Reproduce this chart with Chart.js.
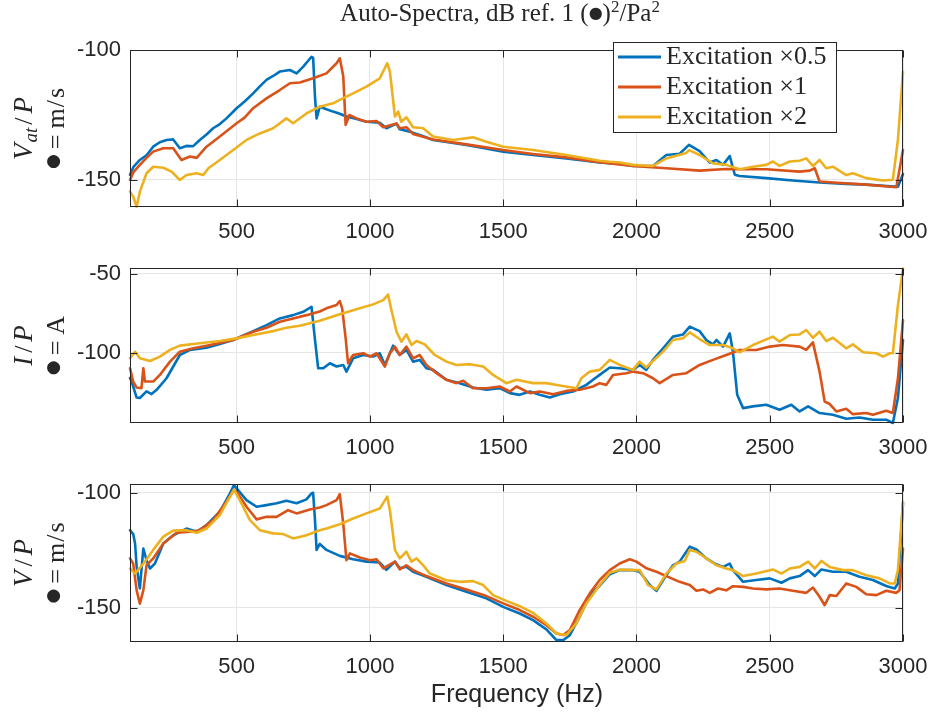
<!DOCTYPE html>
<html><head><meta charset="utf-8">
<script src="https://cdn.jsdelivr.net/npm/chart.js@4.4.1/dist/chart.umd.min.js"></script>
<style>
html,body{margin:0;padding:0;background:#fff;}
#wrap{position:relative;width:932px;height:719px;overflow:hidden;}
canvas{position:absolute;left:0;}
</style></head><body>
<div id="wrap">
<canvas id="c1" width="932" height="240" style="top:0px;width:932px;height:240px"></canvas>
<canvas id="c2" width="932" height="215" style="top:240px;width:932px;height:215px"></canvas>
<canvas id="c3" width="932" height="264" style="top:455px;width:932px;height:264px"></canvas>
</div>
<script>
// ---------- text / ticks ----------
const FREQ_TICKS = [500, 1000, 1500, 2000, 2500, 3000];
const VAT_Y_TICKS = [-150, -100];
const I_Y_TICKS = [-100, -50];
const V_Y_TICKS = [-150, -100];
const SERIES_LABELS = ['Excitation \u00d70.5', 'Excitation \u00d71', 'Excitation \u00d72'];
const SERIES_COLORS = ['#0072BD', '#D95319', '#EDB120'];
const X_TITLE = 'Frequency (Hz)';

// ---------- V_at / P ----------
const vatBlueF = [100,113,137,162,187,212,237,262,287,312,337,362,387,412,437,462,500,530,562,587,612,637,662,700,725,750,781,787,794,800,812,837,862,887,912,950,987,1037,1062,1100,1112,1150,1200,1237,1300,1362,1430,1500,1612,1737,1862,1937,1987,2062,2112,2162,2197,2237,2275,2300,2325,2350,2369,2387,2487,2587,2687,2787,2862,2940,2981,3000];
const vatBlue = [-148,-145,-142.3,-140.5,-137.2,-135.5,-134.6,-134.4,-137.8,-136.9,-137,-134.6,-132.5,-130.1,-128.5,-126.3,-122.4,-119.8,-116.7,-114,-111.5,-110,-108.3,-107.7,-109,-106.4,-102.6,-103,-118,-126.3,-121.8,-122.8,-123.7,-124.5,-125.6,-126.5,-127.6,-128,-130.1,-128.3,-130.5,-131.4,-133.2,-134.6,-135.6,-136.5,-137.8,-139.1,-140.4,-141.7,-143.3,-143.8,-144.6,-144.6,-140.4,-139.9,-136.5,-138.9,-143.3,-142.3,-144.2,-140.8,-148,-148.5,-149.3,-150.2,-151,-151.5,-151.8,-152.3,-152.6,-147.7];
const vatOrangeF = [100,113,137,162,187,225,262,293,325,350,387,437,500,530,562,612,662,700,737,787,837,875,887,900,909,923,950,987,1025,1050,1100,1112,1137,1162,1237,1362,1500,1612,1737,1862,1987,2112,2237,2337,2387,2487,2612,2650,2669,2687,2737,2862,2975,3000];
const vatOrange = [-150,-147,-144.2,-141.5,-139.1,-137.8,-137.8,-142.3,-141,-141.5,-137.2,-133.3,-128.2,-126,-122.4,-118.6,-115.4,-112.8,-112.5,-110.9,-109,-105.1,-103.2,-110,-128.8,-125,-126.3,-127.6,-127.3,-129.7,-128.3,-130.1,-129.7,-132.3,-134.4,-136.3,-138.5,-140,-141.3,-143.2,-144.6,-145.5,-146.4,-145.8,-145.9,-145.9,-146.8,-146.4,-145.5,-150.6,-151,-151.8,-152.8,-138.5];
const vatYellowF = [100,112,125,137,162,187,225,256,287,312,350,375,394,437,487,537,587,637,687,712,762,812,862,887,937,987,1037,1065,1075,1094,1106,1118,1137,1162,1200,1237,1312,1387,1437,1500,1612,1737,1862,1900,1937,1987,2062,2112,2187,2197,2237,2287,2337,2387,2437,2487,2512,2537,2575,2612,2637,2662,2687,2712,2737,2787,2812,2862,2925,2962,2981,3000];
const vatYellow = [-154.5,-156.4,-160.3,-154.5,-147.4,-144.9,-145.3,-146.8,-150,-148.1,-147.4,-148.1,-145.5,-142.3,-138.5,-134.6,-132.1,-130.1,-126.3,-128.2,-124.4,-121.8,-120.5,-119.2,-116.7,-114.1,-110.9,-105.1,-108.3,-125.6,-123.7,-127.6,-125.9,-129.7,-130.1,-133.3,-134.6,-133.6,-135.3,-137.2,-138.5,-140.4,-142.6,-143,-143.3,-144.2,-144.6,-141.7,-139.6,-138.5,-140.4,-143.6,-144.2,-145.9,-144.9,-144.2,-142.9,-144.6,-142.9,-142.6,-141.7,-144.6,-142.3,-145.5,-144.9,-148.1,-147.4,-149.3,-150.2,-149.9,-134.6,-108.3];

// ---------- I / P ----------
const iBlueF = [100,106,125,137,162,181,200,237,287,325,387,437,487,562,612,662,712,750,781,794,806,825,850,875,900,912,937,975,1012,1037,1056,1087,1112,1137,1162,1187,1212,1237,1287,1337,1387,1437,1487,1525,1562,1600,1637,1675,1712,1762,1812,1837,1862,1900,1937,1987,2012,2037,2062,2100,2137,2175,2200,2237,2262,2287,2300,2325,2350,2362,2378,2400,2437,2487,2537,2581,2612,2644,2687,2737,2787,2837,2887,2937,2962,2981,3000];
const iBlue = [-116,-118.3,-128.4,-128.7,-124.5,-126.2,-123.5,-116.2,-101.5,-98.3,-96.9,-94.5,-92,-86.4,-82.6,-78.4,-76.3,-74.2,-71,-92,-109.9,-109.9,-106.7,-108.8,-107.8,-112,-103.6,-101.5,-102.5,-100.4,-107.8,-95.6,-101.5,-98.3,-105.7,-104.6,-109.9,-110.9,-117.2,-119.3,-122.1,-123.5,-122.5,-125.6,-126.7,-124.6,-126.7,-128.4,-126.3,-124.6,-120.4,-117.2,-114.1,-109.4,-109.9,-110.9,-107.8,-110.9,-104.6,-97.3,-89.9,-88.5,-83.6,-86.4,-92,-94.8,-92,-96.2,-87.8,-99.4,-126.7,-135.1,-134,-133,-136.1,-133,-137.2,-134,-138.2,-139.3,-141.8,-141,-142.4,-142.4,-144.5,-128.7,-92];
const iOrangeF = [100,112,125,143,150,156,187,212,250,287,337,387,487,562,612,662,712,762,812,837,875,887,896,909,918,937,975,1000,1025,1056,1075,1094,1112,1137,1162,1187,1212,1250,1287,1325,1350,1387,1437,1487,1525,1550,1600,1637,1687,1737,1787,1837,1862,1887,1912,1962,1987,2025,2062,2087,2137,2187,2237,2287,2337,2387,2450,2500,2550,2612,2637,2662,2687,2706,2725,2750,2787,2812,2862,2887,2937,2962,2981,3000];
const iOrange = [-109.9,-118.3,-122.1,-122.5,-109.9,-118.3,-118.3,-114.1,-105.7,-99.4,-97.3,-95.6,-92,-86.8,-84.3,-80.5,-78.4,-76.3,-74,-72,-69.9,-67.4,-72,-90.9,-106.7,-101.5,-100.4,-102.5,-100.4,-108.8,-100.4,-96.2,-101.5,-96.2,-103.6,-101.5,-107.8,-113,-117.2,-119.3,-117.8,-122.5,-122.5,-121.4,-124.6,-121.4,-125.6,-124.6,-126.3,-124.2,-123.5,-121.4,-119.3,-120.4,-114.1,-113,-112,-113,-116.2,-119.3,-114.1,-113,-107.8,-104.6,-101.5,-98.3,-98.3,-96.2,-95.2,-96.2,-98.3,-93.5,-112,-130.9,-132.5,-137.2,-135.5,-138.9,-138.2,-139.3,-136.8,-138.2,-116.2,-79.4];
const iYellowF = [100,119,137,175,212,250,287,362,437,500,562,637,687,737,812,887,962,1012,1050,1068,1081,1100,1118,1137,1156,1175,1206,1243,1287,1325,1375,1425,1462,1512,1550,1612,1662,1712,1775,1793,1825,1862,1900,1937,1987,2012,2037,2062,2100,2137,2175,2200,2237,2275,2325,2362,2387,2437,2512,2537,2575,2612,2637,2662,2687,2712,2737,2787,2812,2850,2900,2925,2950,2962,2981,3000];
const iYellow = [-103.6,-99.4,-103.6,-105.3,-102.5,-98.3,-95.6,-94.1,-92.7,-91,-88.9,-86.4,-84.3,-83,-79.9,-75.8,-72,-69.5,-66.8,-63.3,-73.2,-86.8,-93.1,-88.5,-95.2,-92.7,-94.8,-101.5,-105.7,-107.8,-107.3,-108.8,-114.1,-119.3,-117.2,-119.3,-119.3,-120.8,-122.5,-116.2,-112,-110.9,-104.6,-107.8,-110.9,-105.7,-109.4,-105.3,-99.4,-92,-90.9,-87.2,-91.4,-95.2,-95.2,-97.3,-99.8,-95.2,-89.9,-93.1,-88.9,-88.5,-85.7,-90.6,-86.8,-92.7,-90.6,-97.3,-94.8,-99.8,-100.4,-102.5,-100.4,-100.4,-70,-46.9];

// ---------- V / P ----------
const vBlueF = [100,112,119,125,137,150,162,175,193,225,262,312,350,387,437,475,490,500,537,575,612,650,687,725,762,781,787,794,800,812,837,887,937,987,1037,1062,1094,1112,1137,1162,1212,1287,1362,1437,1500,1562,1612,1662,1700,1725,1750,1787,1825,1862,1900,1937,1987,2012,2050,2075,2112,2137,2162,2200,2225,2262,2294,2325,2350,2362,2400,2450,2500,2544,2575,2612,2644,2669,2694,2737,2787,2837,2887,2937,2969,2981,3000];
const vBlue = [-116.3,-118,-122.1,-132.3,-141.7,-124.3,-129.4,-133,-130.9,-122.1,-118.5,-115.6,-117,-114.1,-108.3,-100.3,-96.7,-98.1,-103.2,-106.1,-105.4,-104.6,-103.5,-104.6,-102.9,-100.3,-100,-111.9,-124.9,-122.3,-124.9,-127.5,-129,-130,-130.4,-133.6,-130,-132.9,-132.2,-134.4,-136.6,-140.2,-143.1,-146,-149.7,-152.6,-155.5,-159.5,-164.2,-164.2,-162,-154,-144.6,-140.5,-135.5,-133.7,-133.7,-134.4,-140.2,-142.7,-135.9,-131.6,-130,-123.5,-124.7,-128.6,-130.9,-132.3,-130.9,-133.7,-138.8,-138,-137.3,-139.2,-137.3,-136.3,-133.7,-136.3,-133.4,-134.4,-134.4,-136.6,-138,-140.6,-141.7,-139.5,-104.6];
const vOrangeF = [100,112,125,137,150,162,187,225,275,325,362,412,462,490,500,537,575,612,650,693,725,775,812,837,875,887,900,912,925,962,1000,1025,1050,1094,1112,1137,1162,1212,1287,1362,1437,1500,1562,1612,1662,1700,1725,1750,1787,1825,1862,1900,1937,1975,2000,2037,2075,2112,2162,2200,2225,2250,2275,2306,2337,2362,2400,2437,2487,2537,2587,2637,2662,2687,2706,2725,2750,2787,2825,2862,2900,2937,2975,2987,3000];
const vOrange = [-128.6,-130.9,-142.5,-148.3,-142.5,-131.6,-128.6,-122.1,-117.4,-117,-116.3,-111.9,-103.9,-98.8,-99.6,-106.1,-111.6,-110.5,-110.5,-107.6,-109,-107.3,-106.4,-105.4,-103.2,-100.6,-113.4,-129.4,-126.4,-128.2,-129.4,-129,-132.9,-130,-133.4,-131.6,-133.7,-136.3,-139.5,-142.1,-145,-148.2,-151.1,-154,-157.7,-161.3,-162,-159.8,-151.1,-143.8,-138,-133.7,-130.8,-129,-130,-132.9,-134.4,-136.3,-138.8,-140.2,-142.7,-142.1,-143.6,-141.7,-142.5,-140.7,-141,-141.7,-142.1,-141.7,-142.7,-143.6,-141.3,-145.3,-149,-144.6,-145,-139.5,-141,-144.2,-144.6,-142.7,-143.6,-142.5,-124.3];
const vYellowF = [100,119,150,187,225,262,312,350,387,437,475,490,512,550,587,637,675,712,762,812,837,887,937,987,1037,1065,1075,1094,1112,1137,1156,1175,1200,1225,1287,1337,1387,1425,1462,1512,1562,1612,1662,1700,1737,1775,1812,1862,1900,1937,1987,2012,2044,2075,2112,2150,2181,2200,2225,2262,2300,2337,2362,2400,2450,2512,2544,2575,2612,2644,2669,2694,2725,2775,2812,2862,2912,2950,2969,2981,3000];
const vYellow = [-133,-135.2,-130.9,-124.9,-119.1,-116.5,-116.3,-117.4,-115.6,-109.7,-101.7,-98.6,-103.2,-111.9,-116.3,-117.7,-118,-119.9,-118.5,-116.3,-115.6,-113.7,-111.2,-109,-106.9,-101.7,-107.6,-124.9,-128.6,-125.7,-130,-128.6,-131.6,-135.2,-138.1,-138.8,-138.5,-140.2,-144.6,-147.1,-149.4,-152.3,-156.9,-161.3,-162,-156.9,-148.2,-140.2,-134.8,-133.5,-133.7,-133.7,-140.2,-142.1,-135.2,-130.8,-129.7,-124.9,-125.7,-128.6,-131.6,-133,-133.7,-136.3,-135.2,-133.4,-135.2,-133,-132.3,-130,-133,-129.7,-132.3,-133.7,-133.7,-135.9,-137.3,-139.5,-139.5,-133.7,-103.9];

// ---------- helpers ----------
const SANS = '"Liberation Sans", Arial, Helvetica, sans-serif';
const SERIF = '"Liberation Serif", "Times New Roman", serif';
const AXIS_COLOR = '#262626';
const GRID_COLOR = '#e6e6e6';

function pts(f, d) { return f.map((x, i) => ({ x: x, y: d[i] })); }

function drawSegs(ctx, segs, x, y, align) {
  let total = 0;
  segs.forEach(s => { ctx.font = s.font; s.w = ctx.measureText(s.t).width + (s.pad || 0); total += s.w; });
  let cx = align === 'center' ? x - total / 2 : x;
  ctx.textAlign = 'left'; ctx.textBaseline = 'alphabetic';
  segs.forEach(s => { ctx.font = s.font; ctx.fillText(s.t, cx + (s.pre || 0), y + (s.dy || 0)); cx += s.w; });
}

const IT = 'italic 27px ' + SERIF, RM = '26px ' + SERIF, SUB = 'italic 19px ' + SERIF, BUL = '17px "DejaVu Sans", sans-serif';

function makeFrame(cfg) {
  return {
    id: 'frame_' + cfg.id,
    afterDraw(chart) {
      const ctx = chart.ctx, a = chart.chartArea, xs = chart.scales.x, ys = chart.scales.y;
      ctx.save();
      ctx.strokeStyle = AXIS_COLOR; ctx.lineWidth = 1;
      const L = Math.round(a.left) + 0.5, T = Math.round(a.top) + 0.5, R = Math.round(a.right) - 0.5, B = Math.round(a.bottom) - 0.5;
      ctx.beginPath();
      FREQ_TICKS.forEach(v => {
        const px = Math.round(xs.getPixelForValue(v)) + 0.5;
        ctx.moveTo(px, B); ctx.lineTo(px, B - 7); ctx.moveTo(px, T); ctx.lineTo(px, T + 7);
      });
      cfg.yTicks.forEach(v => {
        const py = Math.round(ys.getPixelForValue(v)) + 0.5;
        ctx.moveTo(L, py); ctx.lineTo(L + 7, py); ctx.moveTo(R, py); ctx.lineTo(R - 7, py);
      });
      ctx.stroke();
      ctx.strokeRect(L, T, R - L, B - T);

      // y label (two lines, rotated)
      ctx.fillStyle = AXIS_COLOR;
      const cy = (a.top + a.bottom) / 2;
      ctx.save(); ctx.translate(32, cy); ctx.rotate(-Math.PI / 2);
      drawSegs(ctx, cfg.yLine1, 0, 0, 'center'); ctx.restore();
      ctx.save(); ctx.translate(64, cy); ctx.rotate(-Math.PI / 2);
      drawSegs(ctx, cfg.yLine2, 0, 0, 'center'); ctx.restore();

      if (cfg.legend) {
        const bx = 613.5, by = 42.5, bw = 223, bh = 90;
        ctx.fillStyle = '#ffffff'; ctx.fillRect(bx, by, bw, bh);
        ctx.strokeStyle = AXIS_COLOR; ctx.lineWidth = 1; ctx.strokeRect(bx, by, bw, bh);
        SERIES_LABELS.forEach((lab, i) => {
          const ry = 57 + i * 30;
          ctx.strokeStyle = SERIES_COLORS[i]; ctx.lineWidth = 2.8;
          ctx.beginPath(); ctx.moveTo(618, ry); ctx.lineTo(661, ry); ctx.stroke();
          ctx.fillStyle = AXIS_COLOR;
          ctx.font = '26px ' + SERIF; ctx.textAlign = 'left'; ctx.textBaseline = 'alphabetic';
          ctx.fillText(lab, 666, ry + 7);
        });
      }
      if (cfg.title) {
        ctx.fillStyle = AXIS_COLOR;
        drawSegs(ctx, [
          { t: 'Auto-Spectra, dB ref. 1 (', font: '25px ' + SERIF },
          { t: '\u25CF', font: '16px "DejaVu Sans", sans-serif', dy: -3 },
          { t: ')', font: '25px ' + SERIF },
          { t: '2', font: '17px ' + SERIF, dy: -9 },
          { t: '/Pa', font: '25px ' + SERIF },
          { t: '2', font: '17px ' + SERIF, dy: -9 }
        ], 500, 21, 'center');
      }
      if (cfg.xTitle) {
        ctx.fillStyle = AXIS_COLOR; ctx.font = '25px ' + SANS; ctx.textAlign = 'center'; ctx.textBaseline = 'alphabetic';
        ctx.fillText(X_TITLE, 517, a.bottom + 60);
      }
      ctx.restore();
    }
  };
}

function makeChart(canvasId, cfg) {
  const sets = cfg.series.map((s, i) => ({
    label: SERIES_LABELS[i], data: pts(s[0], s[1]), borderColor: SERIES_COLORS[i], backgroundColor: SERIES_COLORS[i],
    fill: false, order: 3 - i, clip: 2
  }));
  const tickFont = { family: SANS, size: 22 };
  return new Chart(document.getElementById(canvasId), {
    type: 'line',
    data: { datasets: sets },
    options: {
      responsive: false, animation: false, devicePixelRatio: 1,
      layout: { padding: { top: cfg.padTop, left: 0, right: 29, bottom: 0 } },
      plugins: { legend: { display: false }, tooltip: { enabled: false }, title: { display: false } },
      elements: { point: { radius: 0, hoverRadius: 0 }, line: { tension: 0, borderWidth: 2.6, borderJoinStyle: 'round', borderCapStyle: 'round' } },
      scales: {
        x: {
          type: 'linear', min: 100, max: 3000,
          afterBuildTicks: s => { s.ticks = FREQ_TICKS.map(v => ({ value: v })); },
          afterFit: s => { s.height = cfg.xH; s.paddingLeft = 0; s.paddingRight = 0; },
          grid: { color: GRID_COLOR, drawTicks: false }, border: { display: false },
          ticks: { autoSkip: false, maxRotation: 0, padding: 12, color: AXIS_COLOR, font: tickFont, callback: v => String(v) }
        },
        y: {
          type: 'linear', min: cfg.yMin, max: cfg.yMax,
          afterBuildTicks: s => { s.ticks = cfg.yTicks.map(v => ({ value: v })); },
          afterFit: s => { s.width = 130; s.paddingTop = 0; s.paddingBottom = 0; },
          grid: { color: GRID_COLOR, drawTicks: false }, border: { display: false },
          ticks: { padding: 9, color: AXIS_COLOR, font: tickFont, callback: v => String(v) }
        }
      }
    },
    plugins: [makeFrame(cfg)]
  });
}

const line2 = unit => [
  { t: '\u25CF', font: BUL, dy: -6, pad: 5 },
  { t: '=', font: RM, pad: 6 },
  { t: unit.split('/')[0], font: RM, pad: unit.indexOf('/') >= 0 ? 1 : 0 },
  ...(unit.indexOf('/') >= 0 ? [{ t: '/', font: RM, pad: 2 }, { t: unit.split('/')[1], font: RM }] : [])
];

makeChart('c1', {
  id: 'vat', padTop: 50, xH: 33, yMin: -160.4, yMax: -100, yTicks: VAT_Y_TICKS,
  series: [[vatBlueF, vatBlue], [vatOrangeF, vatOrange], [vatYellowF, vatYellow]],
  yLine1: [{ t: 'V', font: IT, pad: 1 }, { t: 'at', font: SUB, dy: 5, pad: 3 }, { t: '/', font: RM, pad: 4 }, { t: 'P', font: IT }],
  yLine2: line2('m/s'), legend: true, title: true
});
makeChart('c2', {
  id: 'i', padTop: 28, xH: 32, yMin: -144.5, yMax: -46.5, yTicks: I_Y_TICKS,
  series: [[iBlueF, iBlue], [iOrangeF, iOrange], [iYellowF, iYellow]],
  yLine1: [{ t: 'I', font: IT, pad: 4 }, { t: '/', font: RM, pad: 4 }, { t: 'P', font: IT }],
  yLine2: line2('A')
});
makeChart('c3', {
  id: 'v', padTop: 29, xH: 77, yMin: -165, yMax: -96.2, yTicks: V_Y_TICKS,
  series: [[vBlueF, vBlue], [vOrangeF, vOrange], [vYellowF, vYellow]],
  yLine1: [{ t: 'V', font: IT, pad: 4 }, { t: '/', font: RM, pad: 4 }, { t: 'P', font: IT }],
  yLine2: line2('m/s'), xTitle: true
});
</script>
</body></html>
